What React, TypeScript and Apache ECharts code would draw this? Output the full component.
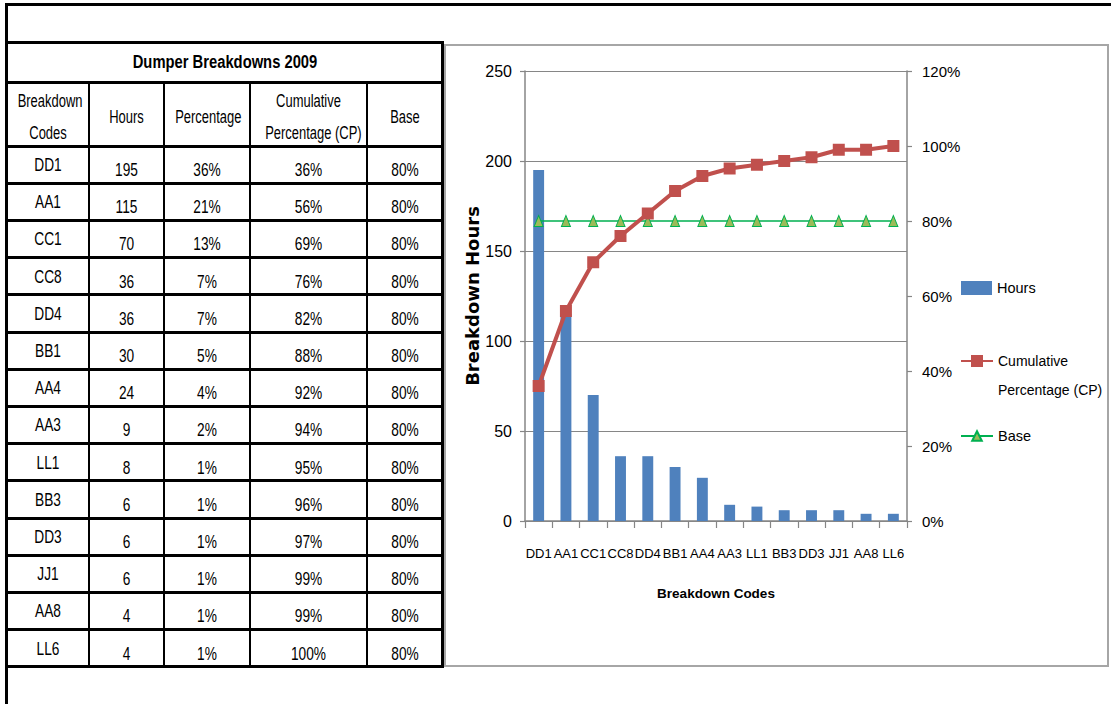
import React, { useEffect, useRef } from "react";
import * as echarts from "echarts";

// ---- Data ----
const tableTitle = "Dumper Breakdowns 2009";
const headers = ["Breakdown\nCodes", "Hours", "Percentage", "Cumulative\nPercentage (CP)", "Base"];
const codes = ["DD1", "AA1", "CC1", "CC8", "DD4", "BB1", "AA4", "AA3", "LL1", "BB3", "DD3", "JJ1", "AA8", "LL6"];
const hours = [195, 115, 70, 36, 36, 30, 24, 9, 8, 6, 6, 6, 4, 4];
const percentage = [36, 21, 13, 7, 7, 5, 4, 2, 1, 1, 1, 1, 1, 1];
const cumulative = [36, 56, 69, 76, 82, 88, 92, 94, 95, 96, 97, 99, 99, 100];
const base = [80, 80, 80, 80, 80, 80, 80, 80, 80, 80, 80, 80, 80, 80];
const hoursAxis = { min: 0, max: 250, step: 50 };
const pctAxis = { min: 0, max: 120, step: 20 };

// ---- Layout / style ----
const SANS = "'Liberation Sans', Arial, sans-serif";
const colEdges = [7, 89, 164, 250, 367, 443];
const tableTop = 42;
const titleBottom = 82;
const headerBottom = 146;
const rowH = 37.2;
const squeeze = "scaleX(0.74)";

function HLine({ y, x1, x2, w }: { y: number; x1: number; x2: number; w: number }) {
  return <div style={{ position: "absolute", left: x1, top: y - w / 2, width: x2 - x1, height: w, background: "#000" }} />;
}
function VLine({ x, y1, y2, w }: { x: number; y1: number; y2: number; w: number }) {
  return <div style={{ position: "absolute", left: x - w / 2, top: y1, width: w, height: y2 - y1, background: "#000" }} />;
}
function Cell({ col, cy, text, size = 18.5, bold = false, lh = 22 }: { col: number; cy: number; text: string; size?: number; bold?: boolean; lh?: number }) {
  const lines = text.split("\n").length;
  const h = lines * lh;
  return (
    <div
      style={{
        position: "absolute",
        left: colEdges[col],
        width: colEdges[col + 1] - colEdges[col],
        top: cy - h / 2,
        height: h,
        lineHeight: lh + "px",
        textAlign: "center",
        whiteSpace: "pre",
        fontFamily: SANS,
        fontSize: size,
        fontWeight: bold ? 700 : 400,
        color: "#000",
        transform: squeeze,
        transformOrigin: "50% 50%",
      }}
    >
      {text}
    </div>
  );
}

function DataTable() {
  const rowsBottom = headerBottom + rowH * codes.length;
  const els: React.ReactNode[] = [];
  // outer frame of the sheet
  els.push(<HLine key="ft" y={4.5} x1={5} x2={1111} w={3} />);
  els.push(<VLine key="fl" x={6.5} y1={3} y2={704} w={3} />);
  // table borders
  els.push(<HLine key="tt" y={tableTop} x1={5} x2={444} w={3} />);
  els.push(<HLine key="tb" y={titleBottom} x1={5} x2={444} w={3} />);
  els.push(<HLine key="hb" y={headerBottom} x1={5} x2={444} w={3} />);
  for (let i = 1; i <= codes.length; i++) {
    els.push(<HLine key={"r" + i} y={headerBottom + rowH * i} x1={5} x2={444} w={3} />);
  }
  for (let c = 1; c < colEdges.length - 1; c++) {
    els.push(<VLine key={"c" + c} x={colEdges[c]} y1={titleBottom} y2={rowsBottom} w={2} />);
  }
  els.push(<VLine key="cr" x={442} y1={tableTop - 1.5} y2={rowsBottom + 1.5} w={3} />);

  // texts
  els.push(
    <div
      key="title"
      style={{
        position: "absolute",
        left: colEdges[0],
        width: colEdges[5] - colEdges[0],
        top: 49,
        height: 26,
        lineHeight: "26px",
        textAlign: "center",
        fontFamily: SANS,
        fontSize: 18,
        fontWeight: 700,
        color: "#000",
        transform: "scaleX(0.82)",
        transformOrigin: "50% 50%",
      }}
    >
      {tableTitle}
    </div>
  );
  headers.forEach((h, i) => {
    els.push(<Cell key={"h" + i} col={i} cy={117} text={h} lh={32} size={17.5} />);
  });
  codes.forEach((code, r) => {
    const top = headerBottom + rowH * r;
    els.push(<Cell key={"a" + r} col={0} cy={top + 19} text={code} />);
    els.push(<Cell key={"b" + r} col={1} cy={top + 24} text={String(hours[r])} />);
    els.push(<Cell key={"p" + r} col={2} cy={top + 24} text={percentage[r] + "%"} />);
    els.push(<Cell key={"q" + r} col={3} cy={top + 24} text={cumulative[r] + "%"} />);
    els.push(<Cell key={"s" + r} col={4} cy={top + 24} text={base[r] + "%"} />);
  });
  return <>{els}</>;
}

function ParetoChart() {
  const ref = useRef<HTMLDivElement>(null);
  useEffect(() => {
    if (!ref.current) return;
    const chart = echarts.init(ref.current, undefined, { renderer: "svg" });
    const axisGray = "#868686";
    chart.setOption({
      animation: false,
      backgroundColor: "transparent",
      textStyle: { fontFamily: SANS, color: "#000" },
      grid: { left: 525, top: 71, right: 204, bottom: 183, containLabel: false },
      xAxis: {
        type: "category",
        data: codes,
        boundaryGap: true,
        axisLine: { lineStyle: { color: axisGray, width: 1.5 } },
        axisTick: { show: true, length: 7, lineStyle: { color: axisGray, width: 1.2 } },
        axisLabel: { color: "#000", fontSize: 13, margin: 26, interval: 0, fontFamily: SANS },
        name: "Breakdown Codes",
        nameLocation: "middle",
        nameGap: 65,
        nameTextStyle: { color: "#000", fontSize: 13.5, fontWeight: "bold", fontFamily: SANS },
      },
      yAxis: [
        {
          type: "value",
          position: "left",
          min: hoursAxis.min,
          max: hoursAxis.max,
          interval: hoursAxis.step,
          axisLine: { show: true, lineStyle: { color: axisGray, width: 1.5 } },
          axisTick: { show: true, length: 5, lineStyle: { color: axisGray, width: 1.2 } },
          axisLabel: { color: "#000", fontSize: 16, margin: 13, fontFamily: SANS },
          splitLine: { show: true, lineStyle: { color: axisGray, width: 1.2 } },
          name: "Breakdown Hours",
          nameLocation: "middle",
          nameRotate: 90,
          nameGap: 33,
          nameTextStyle: { color: "#000", fontSize: 18, fontWeight: "bold", fontFamily: "'DejaVu Sans', sans-serif" },
        },
        {
          type: "value",
          position: "right",
          min: pctAxis.min,
          max: pctAxis.max,
          interval: pctAxis.step,
          axisLine: { show: true, lineStyle: { color: axisGray, width: 1.5 } },
          axisTick: { show: true, length: 5, lineStyle: { color: axisGray, width: 1.2 } },
          axisLabel: { color: "#000", fontSize: 15, margin: 15, formatter: "{value}%", fontFamily: SANS },
          splitLine: { show: false },
        },
      ],
      legend: [
        {
          data: ["Hours"],
          left: 961,
          top: 278,
          padding: 0,
          orient: "vertical",
          icon: "rect",
          itemWidth: 31,
          itemHeight: 14,
          itemGap: 0,
          textStyle: { fontSize: 14.5, color: "#000", fontFamily: SANS, lineHeight: 20 },
        },
        {
          data: ["Cumulative Percentage (CP)"],
          // leading blank line keeps the first text line level with the key
          formatter: () => "\nCumulative\nPercentage (CP)",
          left: 960,
          top: 317.5,
          padding: 0,
          orient: "vertical",
          itemWidth: 32,
          itemHeight: 15,
          textStyle: { fontSize: 14, color: "#000", fontFamily: SANS, lineHeight: 29 },
        },
        {
          data: ["Base"],
          left: 960,
          top: 426,
          padding: 0,
          orient: "vertical",
          itemWidth: 32,
          itemHeight: 12,
          textStyle: { fontSize: 14.5, color: "#000", fontFamily: SANS, lineHeight: 20 },
        },
      ],
      series: [
        {
          name: "Hours",
          type: "bar",
          data: hours,
          barWidth: "40%",
          itemStyle: { color: "#4F81BD" },
        },
        {
          name: "Cumulative Percentage (CP)",
          type: "line",
          yAxisIndex: 1,
          data: cumulative,
          symbol: "rect",
          symbolSize: 12,
          lineStyle: { color: "#C0504D", width: 4 },
          itemStyle: { color: "#C0504D" },
          z: 3,
        },
        {
          name: "Base",
          type: "line",
          yAxisIndex: 1,
          data: base,
          symbol: "triangle",
          symbolSize: [9, 11],
          lineStyle: { color: "#00B050", width: 1.5 },
          itemStyle: { color: "#9BBB59", borderColor: "#00B050", borderWidth: 1 },
          z: 2,
        },
      ],
    });
    return () => chart.dispose();
  }, []);
  return (
    <div
      ref={ref}
      style={{ position: "absolute", left: 0, top: 0, width: 1111, height: 704, pointerEvents: "none" }}
    />
  );
}

export default function App() {
  return (
    <div style={{ position: "absolute", left: 0, top: 0, width: 1111, height: 704, background: "#fff", overflow: "hidden" }}>
      <div
        style={{
          position: "absolute",
          left: 444,
          top: 44,
          width: 665,
          height: 623,
          border: "2px solid #a6a6a6",
          boxSizing: "border-box",
        }}
      />
      <DataTable />
      <ParetoChart />
    </div>
  );
}
